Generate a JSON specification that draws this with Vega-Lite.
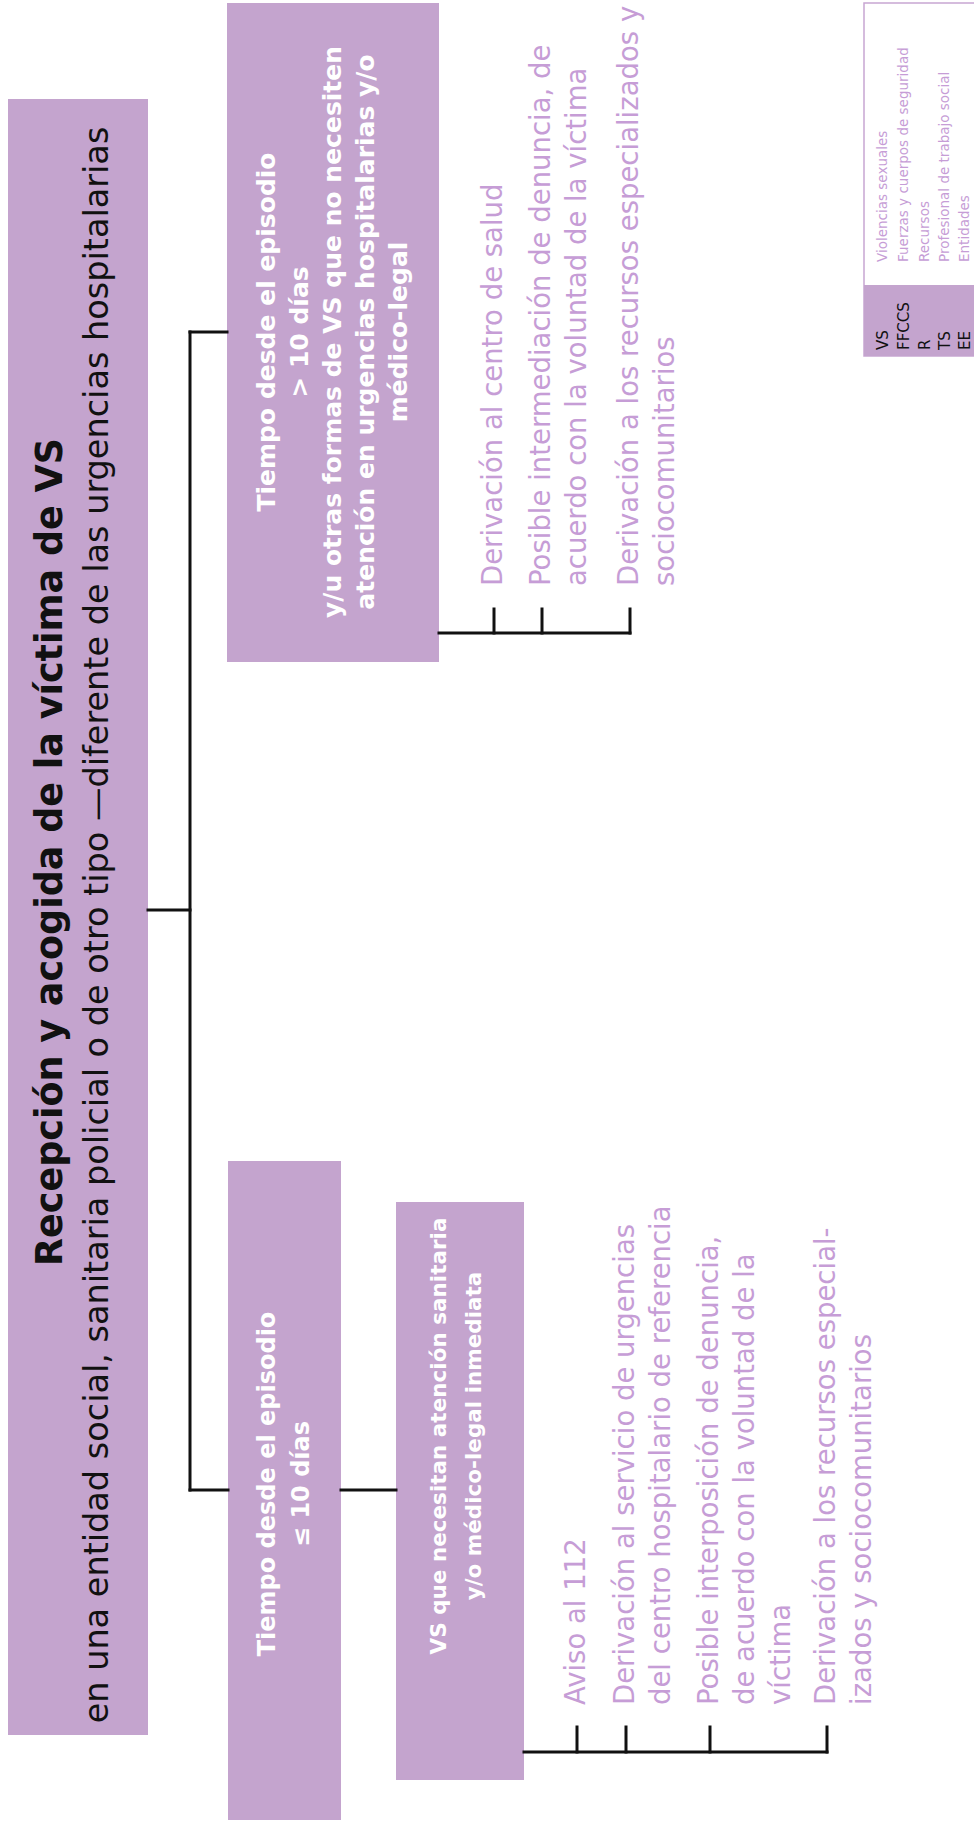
{
  "$schema": "https://vega.github.io/schema/vega-lite/v6.json",
  "width": 974,
  "height": 1824,
  "padding": 0,
  "autosize": {"type": "none"},
  "background": "white",
  "config": {"view": {"stroke": null}},
  "datasets": {
    "boxes": [
      {"id": "main", "x": 8, "x2": 148, "y": 99, "y2": 1735},
      {"id": "gt10", "x": 227, "x2": 439, "y": 3, "y2": 662},
      {"id": "le10", "x": 228, "x2": 341, "y": 1161, "y2": 1820},
      {"id": "vs", "x": 396, "x2": 524, "y": 1202, "y2": 1780},
      {"id": "legendKey", "x": 864, "x2": 990, "y": 285, "y2": 356}
    ],
    "legendFrame": [
      {"id": "legend", "x": 864, "x2": 990, "y": 3, "y2": 356}
    ],
    "links": [
      {"x": 148, "x2": 190, "y": 910, "y2": 910},
      {"x": 190, "x2": 190, "y": 332, "y2": 1490},
      {"x": 190, "x2": 227, "y": 332, "y2": 332},
      {"x": 190, "x2": 228, "y": 1490, "y2": 1490},
      {"x": 341, "x2": 396, "y": 1490, "y2": 1490},
      {"x": 439, "x2": 630, "y": 633, "y2": 633},
      {"x": 494, "x2": 494, "y": 609, "y2": 633},
      {"x": 542, "x2": 542, "y": 609, "y2": 633},
      {"x": 630, "x2": 630, "y": 609, "y2": 633},
      {"x": 524, "x2": 827, "y": 1752, "y2": 1752},
      {"x": 577, "x2": 577, "y": 1727, "y2": 1752},
      {"x": 626, "x2": 626, "y": 1727, "y2": 1752},
      {"x": 710, "x2": 710, "y": 1727, "y2": 1752},
      {"x": 827, "x2": 827, "y": 1727, "y2": 1752}
    ],
    "title": [
      {"x": 51, "y": 852, "text": "Recepción y acogida de la víctima de VS"}
    ],
    "subtitle": [
      {"x": 98, "y": 925, "text": "en una entidad social, sanitaria policial o de otro tipo —diferente de las urgencias hospitalarias"}
    ],
    "gt10Label": [
      {"x": 267, "y": 332, "text": "Tiempo desde el episodio\n> 10 días\ny/u otras formas de VS que no necesiten\natención en urgencias hospitalarias y/o\nmédico-legal"}
    ],
    "le10Label": [
      {"x": 268, "y": 1484, "text": "Tiempo desde el episodio\n≤ 10 días"}
    ],
    "vsLabel": [
      {"x": 440, "y": 1436, "text": "VS que necesitan atención sanitaria\ny/o médico-legal inmediata"}
    ],
    "items": [
      {"x": 494, "y": 586, "text": "Derivación al centro de salud"},
      {"x": 542, "y": 586, "text": "Posible intermediación de denuncia, de\nacuerdo con la voluntad de la víctima"},
      {"x": 630, "y": 586, "text": "Derivación a los recursos especializados y\nsociocomunitarios"},
      {"x": 577, "y": 1705, "text": "Aviso al 112"},
      {"x": 626, "y": 1705, "text": "Derivación al servicio de urgencias\ndel centro hospitalario de referencia"},
      {"x": 710, "y": 1705, "text": "Posible interposición de denuncia,\nde acuerdo con la voluntad de la\nvíctima"},
      {"x": 827, "y": 1705, "text": "Derivación a los recursos especial-\nizados y sociocomunitarios"}
    ],
    "legendAbbr": [
      {"x": 883, "y": 350, "text": "VS"},
      {"x": 904, "y": 350, "text": "FFCCS"},
      {"x": 925, "y": 350, "text": "R"},
      {"x": 945, "y": 350, "text": "TS"},
      {"x": 965, "y": 350, "text": "EE"}
    ],
    "legendDef": [
      {"x": 883, "y": 262, "text": "Violencias sexuales"},
      {"x": 904, "y": 262, "text": "Fuerzas y cuerpos de seguridad"},
      {"x": 925, "y": 262, "text": "Recursos"},
      {"x": 945, "y": 262, "text": "Profesional de trabajo social"},
      {"x": 965, "y": 262, "text": "Entidades"}
    ]
  },
  "layer": [
    {
      "data": {"name": "legendFrame"},
      "mark": {"type": "rect", "fill": "white", "stroke": "#C8A6D2", "strokeWidth": 1.5},
      "encoding": {
        "x": {"field": "x", "type": "quantitative", "scale": {"domain": [0, 974], "nice": false, "zero": false}, "axis": null},
        "x2": {"field": "x2"},
        "y": {"field": "y", "type": "quantitative", "scale": {"domain": [0, 1824], "nice": false, "zero": false, "reverse": true}, "axis": null},
        "y2": {"field": "y2"}
      }
    },
    {
      "data": {"name": "boxes"},
      "mark": {"type": "rect", "fill": "#C4A4CE"},
      "encoding": {
        "x": {"field": "x", "type": "quantitative", "scale": {"domain": [0, 974], "nice": false, "zero": false}, "axis": null},
        "x2": {"field": "x2"},
        "y": {"field": "y", "type": "quantitative", "scale": {"domain": [0, 1824], "nice": false, "zero": false, "reverse": true}, "axis": null},
        "y2": {"field": "y2"}
      }
    },
    {
      "data": {"name": "links"},
      "mark": {"type": "rule", "color": "#111111", "strokeWidth": 3, "strokeCap": "square"},
      "encoding": {
        "x": {"field": "x", "type": "quantitative", "scale": {"domain": [0, 974], "nice": false, "zero": false}, "axis": null},
        "x2": {"field": "x2"},
        "y": {"field": "y", "type": "quantitative", "scale": {"domain": [0, 1824], "nice": false, "zero": false, "reverse": true}, "axis": null},
        "y2": {"field": "y2"}
      }
    },
    {
      "data": {"name": "title"},
      "mark": {"type": "text", "angle": 270, "align": "center", "baseline": "middle", "font": "DejaVu Sans", "fontWeight": "bold", "fontSize": 36.5, "color": "#111111"},
      "encoding": {
        "x": {"field": "x", "type": "quantitative", "scale": {"domain": [0, 974], "nice": false, "zero": false}, "axis": null},
        "y": {"field": "y", "type": "quantitative", "scale": {"domain": [0, 1824], "nice": false, "zero": false, "reverse": true}, "axis": null},
        "text": {"field": "text"}
      }
    },
    {
      "data": {"name": "subtitle"},
      "mark": {"type": "text", "angle": 270, "align": "center", "baseline": "middle", "font": "DejaVu Sans", "fontWeight": "normal", "fontSize": 33.5, "color": "#111111"},
      "encoding": {
        "x": {"field": "x", "type": "quantitative", "scale": {"domain": [0, 974], "nice": false, "zero": false}, "axis": null},
        "y": {"field": "y", "type": "quantitative", "scale": {"domain": [0, 1824], "nice": false, "zero": false, "reverse": true}, "axis": null},
        "text": {"field": "text"}
      }
    },
    {
      "data": {"name": "gt10Label"},
      "mark": {"type": "text", "angle": 270, "align": "center", "baseline": "middle", "lineBreak": "\n", "lineHeight": 33, "font": "DejaVu Sans", "fontWeight": "bold", "fontSize": 25, "color": "white"},
      "encoding": {
        "x": {"field": "x", "type": "quantitative", "scale": {"domain": [0, 974], "nice": false, "zero": false}, "axis": null},
        "y": {"field": "y", "type": "quantitative", "scale": {"domain": [0, 1824], "nice": false, "zero": false, "reverse": true}, "axis": null},
        "text": {"field": "text"}
      }
    },
    {
      "data": {"name": "le10Label"},
      "mark": {"type": "text", "angle": 270, "align": "center", "baseline": "middle", "lineBreak": "\n", "lineHeight": 34, "font": "DejaVu Sans", "fontWeight": "bold", "fontSize": 24, "color": "white"},
      "encoding": {
        "x": {"field": "x", "type": "quantitative", "scale": {"domain": [0, 974], "nice": false, "zero": false}, "axis": null},
        "y": {"field": "y", "type": "quantitative", "scale": {"domain": [0, 1824], "nice": false, "zero": false, "reverse": true}, "axis": null},
        "text": {"field": "text"}
      }
    },
    {
      "data": {"name": "vsLabel"},
      "mark": {"type": "text", "angle": 270, "align": "center", "baseline": "middle", "lineBreak": "\n", "lineHeight": 35, "font": "DejaVu Sans", "fontWeight": "bold", "fontSize": 21.5, "color": "white"},
      "encoding": {
        "x": {"field": "x", "type": "quantitative", "scale": {"domain": [0, 974], "nice": false, "zero": false}, "axis": null},
        "y": {"field": "y", "type": "quantitative", "scale": {"domain": [0, 1824], "nice": false, "zero": false, "reverse": true}, "axis": null},
        "text": {"field": "text"}
      }
    },
    {
      "data": {"name": "items"},
      "mark": {"type": "text", "angle": 270, "align": "left", "baseline": "middle", "lineBreak": "\n", "lineHeight": 36, "font": "DejaVu Sans", "fontWeight": "normal", "fontSize": 27.5, "color": "#C69DD6"},
      "encoding": {
        "x": {"field": "x", "type": "quantitative", "scale": {"domain": [0, 974], "nice": false, "zero": false}, "axis": null},
        "y": {"field": "y", "type": "quantitative", "scale": {"domain": [0, 1824], "nice": false, "zero": false, "reverse": true}, "axis": null},
        "text": {"field": "text"}
      }
    },
    {
      "data": {"name": "legendAbbr"},
      "mark": {"type": "text", "angle": 270, "align": "left", "baseline": "middle", "font": "DejaVu Sans", "fontSize": 15, "color": "#111111"},
      "encoding": {
        "x": {"field": "x", "type": "quantitative", "scale": {"domain": [0, 974], "nice": false, "zero": false}, "axis": null},
        "y": {"field": "y", "type": "quantitative", "scale": {"domain": [0, 1824], "nice": false, "zero": false, "reverse": true}, "axis": null},
        "text": {"field": "text"}
      }
    },
    {
      "data": {"name": "legendDef"},
      "mark": {"type": "text", "angle": 270, "align": "left", "baseline": "middle", "font": "DejaVu Sans", "fontSize": 13.5, "color": "#C69DD6"},
      "encoding": {
        "x": {"field": "x", "type": "quantitative", "scale": {"domain": [0, 974], "nice": false, "zero": false}, "axis": null},
        "y": {"field": "y", "type": "quantitative", "scale": {"domain": [0, 1824], "nice": false, "zero": false, "reverse": true}, "axis": null},
        "text": {"field": "text"}
      }
    }
  ]
}
